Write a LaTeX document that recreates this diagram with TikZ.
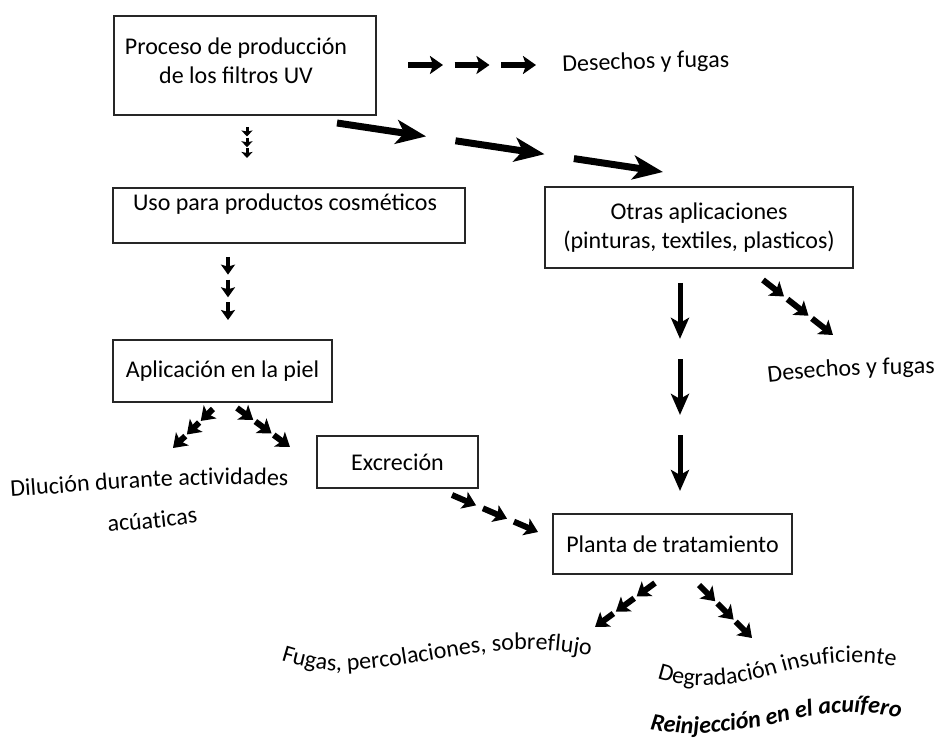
\documentclass[tikz,border=0pt]{standalone}
\usepackage{fontspec}
\setmainfont{Carlito}
\usetikzlibrary{arrows.meta,calc,decorations.text}
\newcommand\lbl{\fontsize{24}{29}\selectfont}
\newcommand\achain[4]{%
  \foreach \k in {0,1,2}{%
    \pgfmathsetmacro\sa{\k*((1-2*#4)/3+#4)}%
    \pgfmathsetmacro\sb{\sa+(1-2*#4)/3}%
    \draw[#1] ($(#2)!\sa!(#3)$) -- ($(#2)!\sb!(#3)$);}}
\tikzset{
  box/.style={draw=black!85, line width=1.5pt, inner sep=2pt},
  txt/.style={font=\lbl, inner sep=0pt},
  bigarr/.style={line width=7pt, -{Stealth[length=30pt,width=24pt,inset=8pt]}},
  downarr/.style={line width=5pt, -{Stealth[length=21pt,width=18pt,inset=5pt]}},
  smallarr/.style={line width=6pt, -{Stealth[length=13pt,width=18pt,inset=3pt]}},
  midarr/.style={line width=4pt, -{Stealth[length=10pt,width=14pt,inset=2pt]}},
  tinyarr/.style={line width=3pt, -{Stealth[length=6pt,width=11pt,inset=1pt]}},
  curvetext/.style={decorate, decoration={text along path, text align=center, text={#1}}}
}
\begin{document}
\begin{tikzpicture}[x=1pt,y=-1pt]
\useasboundingbox (0,0) rectangle (938,751);
\fill[white] (0,0) rectangle (938,751);

% boxes
\node[box, minimum width=262pt, minimum height=99pt] (prod) at (245,65.5) {};
\node[txt, align=center] (prodt) at (236,61) {Proceso de producción\\de los filtros UV};
\node[box, minimum width=352pt, minimum height=55pt] (uso) at (289,215.5) {};
\node[txt] (usot) at (285,204) {Uso para productos cosméticos};
\node[box, minimum width=308pt, minimum height=81pt, align=center, font=\lbl] (otras) at (699,227.5) {Otras aplicaciones\\(pinturas, textiles, plasticos)};
\node[box, minimum width=219pt, minimum height=62pt, font=\lbl] (apl) at (222.5,371) {Aplicación en la piel};
\node[box, minimum width=161pt, minimum height=52pt, font=\lbl] (excr) at (397.5,462) {Excreción};
\node[box, minimum width=239pt, minimum height=60pt, font=\lbl] (planta) at (672.5,544) {Planta de tratamiento};

% chain end points
\coordinate (c1a) at (408,65);  \coordinate (c1b) at (536,65);
\coordinate (c2a) at (247,127); \coordinate (c2b) at (247,158);
\coordinate (c3a) at (337,123); \coordinate (c3b) at (663,172);
\coordinate (c4a) at (228,257); \coordinate (c4b) at (228,320);
\coordinate (c5a) at (680,283); \coordinate (c5b) at (680,491);
\coordinate (c6a) at (763,280); \coordinate (c6b) at (833,335);
\coordinate (c7a) at (213,409); \coordinate (c7b) at (173,448);
\coordinate (c8a) at (237,408); \coordinate (c8b) at (290,447);
\coordinate (c9a) at (452,495); \coordinate (c9b) at (538,532);
\coordinate (c10a) at (655,583); \coordinate (c10b) at (595,627);
\coordinate (c11a) at (699,585); \coordinate (c11b) at (752,638);

\achain{smallarr}{c1a}{c1b}{0.09}
\achain{tinyarr}{c2a}{c2b}{0.04}
\achain{bigarr}{c3a}{c3b}{0.09}
\achain{midarr}{c4a}{c4b}{0.08}
\achain{downarr}{c5a}{c5b}{0.097}
\achain{smallarr}{c6a}{c6b}{0.05}
\achain{smallarr}{c7a}{c7b}{0.04}
\achain{smallarr}{c8a}{c8b}{0.04}
\achain{smallarr}{c9a}{c9b}{0.08}
\achain{smallarr}{c10a}{c10b}{0.04}
\achain{smallarr}{c11a}{c11b}{0.04}

% curved labels
\path[curvetext={|\lbl|Desechos y fugas}] (559,72) .. controls (600,71) and (650,67) .. (733,67.5);
\path[curvetext={|\lbl|Desechos y fugas}] (765,383) .. controls (810,378) and (850,373) .. (938,374);
\path[curvetext={|\lbl|Dilución durante actividades}] (7,497) .. controls (90,492) and (170,481) .. (292,486);
\path[curvetext={|\lbl|acúaticas}] (104,532) .. controls (135,530) and (170,527) .. (202,522);
\path[curvetext={|\lbl|Fugas, percolaciones, sobreflujo}] (276,659) .. controls (300,667) and (320,671) .. (345,671) .. controls (400,668) and (450,655) .. (495,651) .. controls (530,648) and (560,650) .. (596,657);
\path[curvetext={|\lbl|Degradación insuficiente}] (651,676) .. controls (680,690) and (730,688) .. (780,673) .. controls (820,661) and (860,659) .. (902,668);
\path[curvetext={|\lbl\bfseries\itshape|Reinjección en el acuífero}] (642,727) .. controls (680,739) and (740,732) .. (790,720) .. controls (835,710) and (872,710) .. (908,720);
\end{tikzpicture}
\end{document}
